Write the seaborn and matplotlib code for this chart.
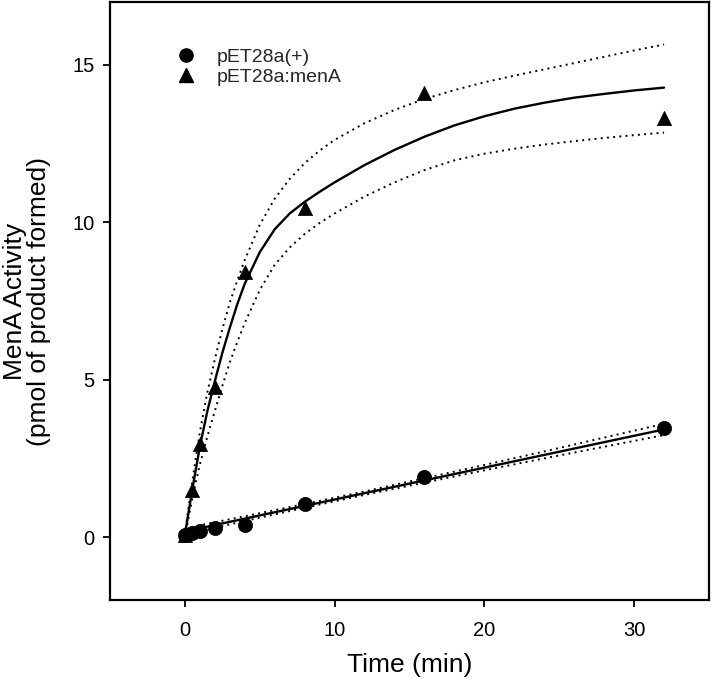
import numpy as np
import pandas as pd
import matplotlib
matplotlib.use("Agg")
import matplotlib.pyplot as plt
from matplotlib.lines import Line2D
import seaborn as sns

# ---- data ----
time_pts = [0, 0.5, 1, 2, 4, 8, 16, 32]
ctrl_vals = [0.08, 0.12, 0.2, 0.3, 0.39, 1.04, 1.9, 3.45]        # pET28a(+)
mena_vals = [0.05, 1.49, 2.96, 4.78, 8.41, 10.45, 14.1, 13.3]     # pET28a:menA

# fitted curve (solid) and confidence bands (dotted), menA
fit_t = [0, 0.25, 0.5, 0.75, 1, 1.5, 2, 2.5, 3, 3.5, 4, 5, 6, 7, 8, 9, 10,
         12, 14, 16, 18, 20, 22, 24, 26, 28, 30, 32]
fit_mena = [0.05, 0.8, 1.52, 2.2, 2.87, 4.0, 4.95, 5.85, 6.65, 7.4, 8.05, 9.05, 9.78, 10.28,
            10.65, 10.97, 11.27, 11.82, 12.3, 12.72, 13.08, 13.37, 13.61, 13.8, 13.96, 14.08,
            14.19, 14.28]
up_mena = [0.1, 0.95, 1.78, 2.58, 3.33, 4.6, 5.65, 6.6, 7.45, 8.15, 8.8, 9.92, 10.75, 11.38,
           11.88, 12.28, 12.62, 13.15, 13.57, 13.92, 14.2, 14.45, 14.66, 14.86, 15.06, 15.26,
           15.46, 15.65]
lo_mena = [0.0, 0.63, 1.22, 1.78, 2.3, 3.2, 4.0, 4.8, 5.55, 6.2, 6.8, 7.85, 8.65, 9.2,
           9.63, 9.98, 10.28, 10.82, 11.27, 11.66, 11.97, 12.18, 12.34, 12.47, 12.58, 12.68,
           12.77, 12.85]

# linear fit (solid) and confidence bands (dotted), control
lin_t = [0, 4, 8, 12, 16, 20, 24, 28, 32]
fit_ctrl = [0.18, 0.585, 0.99, 1.395, 1.8, 2.205, 2.61, 3.015, 3.42]
up_ctrl = [0.28, 0.66, 1.05, 1.45, 1.87, 2.29, 2.72, 3.16, 3.6]
lo_ctrl = [0.08, 0.51, 0.93, 1.34, 1.73, 2.12, 2.5, 2.87, 3.24]

legend_labels = ["pET28a(+)", "pET28a:menA"]

# ---- styling ----
sns.set_theme(style="white")
plt.rcParams["font.family"] = ["Liberation Sans", "DejaVu Sans"]

fig = plt.figure(figsize=(7.13, 6.87), dpi=100)
ax = fig.add_axes([110 / 713, 1 - 600 / 687, 599 / 713, 598 / 687])

curves = pd.DataFrame({
    "t": fit_t * 3 + lin_t * 3,
    "y": fit_mena + up_mena + lo_mena + fit_ctrl + up_ctrl + lo_ctrl,
    "curve": (["menA_fit"] * len(fit_t) + ["menA_up"] * len(fit_t) + ["menA_lo"] * len(fit_t)
              + ["ctrl_fit"] * len(lin_t) + ["ctrl_up"] * len(lin_t) + ["ctrl_lo"] * len(lin_t)),
})

for name, grp in curves.groupby("curve", sort=False):
    dotted = name.endswith("_up") or name.endswith("_lo")
    sns.lineplot(data=grp, x="t", y="y", ax=ax, color="black",
                 linewidth=1.4 if dotted else 1.7,
                 linestyle=(0, (1, 2.2)) if dotted else "-",
                 estimator=None, sort=True, legend=False, zorder=2)

pts = pd.DataFrame({
    "t": time_pts * 2,
    "y": ctrl_vals + mena_vals,
    "group": [legend_labels[0]] * len(time_pts) + [legend_labels[1]] * len(time_pts),
})
sns.scatterplot(data=pts[pts.group == legend_labels[1]], x="t", y="y", ax=ax,
                marker="^", s=105, color="black", edgecolor="black", linewidth=0.5,
                legend=False, zorder=3)
sns.scatterplot(data=pts[pts.group == legend_labels[0]], x="t", y="y", ax=ax,
                marker="o", s=105, color="black", edgecolor="black", linewidth=0.5,
                legend=False, zorder=4)

ax.set_xlim(-5, 35)
ax.set_ylim(-2, 17)
ax.set_xticks([0, 10, 20, 30])
ax.set_yticks([0, 5, 10, 15])

for sp in ax.spines.values():
    sp.set_visible(True)
    sp.set_color("black")
    sp.set_linewidth(1.6)

ax.tick_params(axis="both", which="major", direction="out", length=5, width=1.3,
               colors="black", labelsize=14.5)
ax.tick_params(axis="x", pad=10, bottom=True)
ax.tick_params(axis="y", pad=6, left=True)

ax.set_xlabel("Time (min)", fontsize=19, color="black")
ax.set_ylabel("MenA Activity\n(pmol of product formed)", fontsize=19, color="black",
              linespacing=1.0)
ax.xaxis.set_label_coords(0.5, -0.088)
ax.yaxis.set_label_coords(-0.098, 0.5)

handles = [
    Line2D([], [], marker="o", linestyle="none", color="black", markersize=9.5),
    Line2D([], [], marker="^", linestyle="none", color="black", markersize=9.5),
]
ax.legend(handles, legend_labels, loc="upper left", bbox_to_anchor=(0.097, 0.935),
          frameon=False, fontsize=14, handletextpad=1.1, labelspacing=0.12,
          borderaxespad=0, handlelength=1.0)

fig.savefig("out.png", dpi=100, facecolor="white")
